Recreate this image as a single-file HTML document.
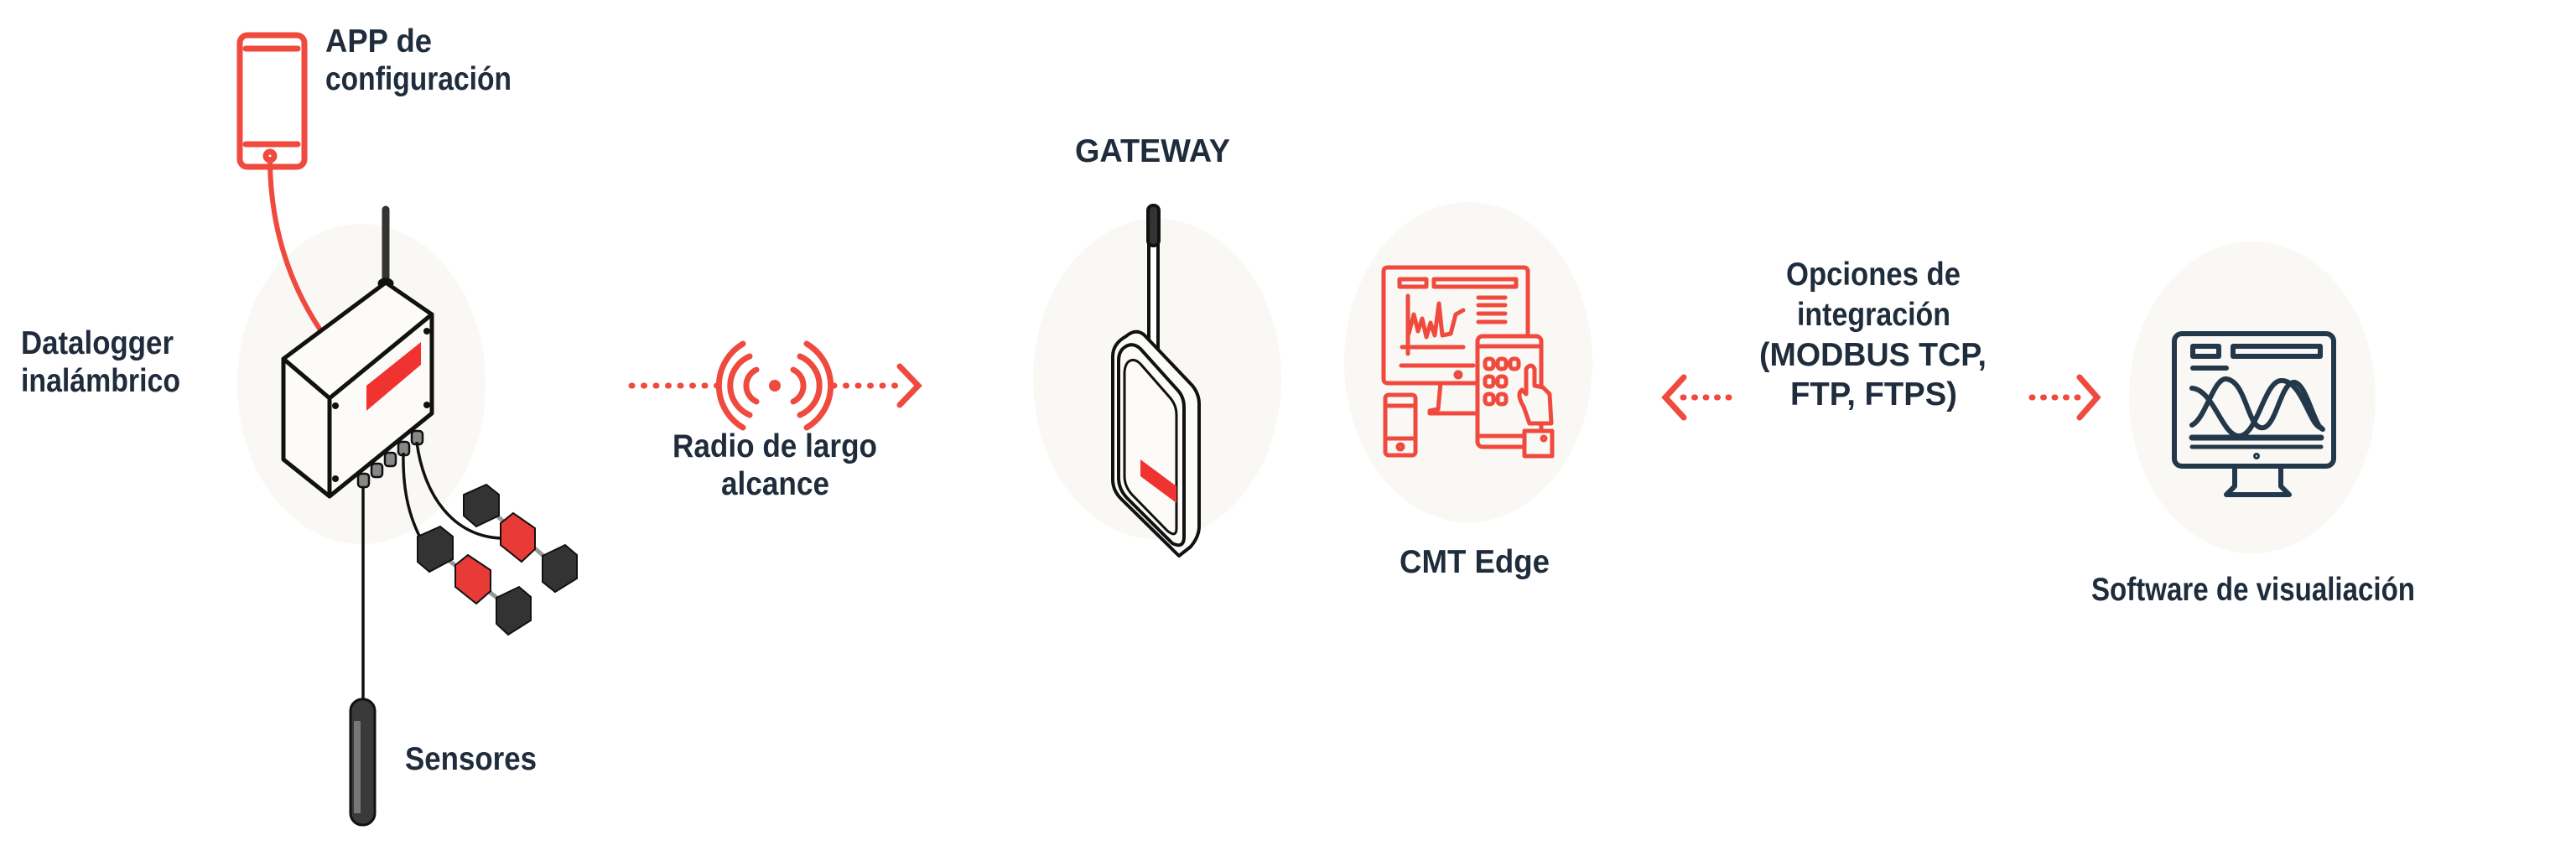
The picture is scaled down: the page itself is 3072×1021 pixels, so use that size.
<!DOCTYPE html>
<html><head><meta charset="utf-8"><style>
html,body{margin:0;padding:0;background:#fff;}
svg{display:block;}
text{font-family:"Liberation Sans",sans-serif;font-weight:bold;fill:#1f2c3b;font-size:39px;}
</style></head><body>
<svg width="3072" height="1021" viewBox="0 0 3072 1021" xmlns="http://www.w3.org/2000/svg">
<!-- background circles -->
<g fill="#f9f8f4">
<ellipse cx="431" cy="458" rx="148" ry="191"/>
<ellipse cx="1380" cy="452" rx="148" ry="191"/>
<ellipse cx="1751" cy="432" rx="148" ry="191"/>
<ellipse cx="2686" cy="474" rx="147" ry="186"/>
</g>

<!-- phone -->
<g fill="none" stroke="#f04a3e" stroke-width="7" stroke-linecap="round">
<rect x="286" y="42" width="77" height="157" rx="9"/>
<line x1="293" y1="58" x2="355" y2="58"/>
<line x1="293" y1="172" x2="355" y2="172"/>
<circle cx="322" cy="186" r="5"/>
<path d="M322 190 C322 260 340 330 381 392" stroke-width="6"/>
</g>

<!-- datalogger box -->
<g stroke="#111" stroke-width="5" stroke-linejoin="round" fill="#fcfbf8">
<line x1="460" y1="250" x2="460" y2="338" stroke-width="9" stroke-linecap="round" stroke="#333"/>
<ellipse cx="460" cy="338" rx="7" ry="4" fill="#444"/>
<polygon points="338,428 460,337 515,375 393,475"/>
<polygon points="338,428 393,475 393,592 338,548"/>
<polygon points="393,475 515,375 515,493 393,592"/>
</g>
<polygon points="437,460 502,408 502,435 437,490" fill="#f03330"/>
<g fill="#111">
<circle cx="400" cy="484" r="4"/><circle cx="509" cy="395" r="4"/>
<circle cx="509" cy="483" r="4"/><circle cx="400" cy="571" r="4"/>
</g>
<g fill="#888" stroke="#111" stroke-width="2.5">
<rect x="427" y="565" width="13" height="16" rx="4"/>
<rect x="443" y="553" width="13" height="16" rx="4"/>
<rect x="459" y="540" width="13" height="16" rx="4"/>
<rect x="475" y="527" width="13" height="16" rx="4"/>
<rect x="491" y="514" width="13" height="16" rx="4"/>
</g>
<g fill="none" stroke="#111" stroke-width="3.5">
<line x1="433" y1="580" x2="433" y2="835"/>
<path d="M481 540 C480 590 490 620 502 643"/>
<path d="M497 527 C505 590 540 640 598 642"/>
</g>
<!-- dumbbells -->
<g stroke="#111" stroke-width="2">
<line x1="575" y1="600" x2="668" y2="680" stroke="#999" stroke-width="5"/>
<line x1="518" y1="655" x2="612" y2="728" stroke="#999" stroke-width="5"/>
<polygon points="553,590 580,578 595,590 595,615 568,628 553,615" fill="#333"/>
<polygon points="647,663 674,650 688,662 688,690 662,706 647,694" fill="#333"/>
<polygon points="597,624 612,612 638,630 638,655 622,670 597,650" fill="#e83a36"/>
<polygon points="498,640 525,628 540,640 540,667 512,682 498,670" fill="#333"/>
<polygon points="592,713 619,700 633,712 633,740 606,757 592,744" fill="#333"/>
<polygon points="543,674 558,662 585,680 585,705 568,720 543,700" fill="#e83a36"/>
</g>
<!-- probe -->
<rect x="418" y="834" width="29" height="150" rx="14" fill="#3a3a3a" stroke="#111" stroke-width="3"/>
<rect x="422" y="860" width="8" height="110" fill="#777"/>

<!-- labels left -->
<text x="388" y="62" textLength="127" lengthAdjust="spacingAndGlyphs">APP de</text>
<text x="388" y="107" textLength="222" lengthAdjust="spacingAndGlyphs">configuración</text>
<text x="25" y="422" textLength="182" lengthAdjust="spacingAndGlyphs">Datalogger</text>
<text x="25" y="467" textLength="190" lengthAdjust="spacingAndGlyphs">inalámbrico</text>
<text x="483" y="918" textLength="157" lengthAdjust="spacingAndGlyphs">Sensores</text>
<text x="802" y="545" textLength="244" lengthAdjust="spacingAndGlyphs">Radio de largo</text>
<text x="860" y="590" textLength="129" lengthAdjust="spacingAndGlyphs">alcance</text>

<!-- radio arrow -->
<g stroke="#f04a3e" stroke-width="7" stroke-linecap="round" fill="none">
<line x1="753" y1="460" x2="862" y2="460" stroke-dasharray="1 13.5"/>
<line x1="994" y1="460" x2="1080" y2="460" stroke-dasharray="1 13.5"/>
<polyline points="1073,437 1095,460 1073,483"/>
<path d="M902 479 A21 21 0 0 1 902 441"/>
<path d="M946 441 A21 21 0 0 1 946 479"/>
<path d="M894 495 A38 38 0 0 1 894 425"/>
<path d="M954 425 A38 38 0 0 1 954 495"/>
<path d="M886 510 A58 58 0 0 1 886 410"/>
<path d="M962 410 A58 58 0 0 1 962 510"/>
</g>
<circle cx="924" cy="460" r="7" fill="#f04a3e"/>

<!-- gateway -->
<text x="1282" y="193" textLength="185" lengthAdjust="spacingAndGlyphs">GATEWAY</text>
<g stroke="#111" stroke-width="4" stroke-linejoin="round">
<rect x="1370" y="290" width="11" height="130" fill="#fff"/>
<rect x="1369" y="245" width="13" height="48" rx="6" fill="#333"/>
<path d="M1343 401 Q1355 391 1365 400 L1422 460 Q1430 470 1430 482 L1430 628 Q1430 640 1420 652 L1406 663 L1337 595 Q1327 585 1327 572 L1327 425 Q1327 410 1343 401 Z" fill="#fcfbf8"/>
<path d="M1340 415 Q1350 407 1360 416 L1405 466 Q1412 474 1412 486 L1412 640 Q1412 655 1398 648 L1345 595 Q1334 584 1334 570 L1334 430 Q1334 420 1340 415 Z" fill="#fcfbf8"/>
<path d="M1345 432 Q1352 426 1360 434 L1395 474 Q1403 483 1403 495 L1403 630 Q1403 642 1392 633 L1350 590 Q1341 580 1341 568 L1341 445 Q1341 437 1345 432 Z" fill="#fcfbf8" stroke-width="3"/>
</g>
<polygon points="1360,548 1403,580 1403,600 1360,568" fill="#f03330"/>

<!-- CMT Edge icon -->
<g fill="none" stroke="#f04a3e" stroke-width="5" stroke-linejoin="round" stroke-linecap="round">
<path d="M1762 457 L1655 457 Q1650 457 1650 452 L1650 324 Q1650 319 1655 319 L1817 319 Q1822 319 1822 324 L1822 400"/>
<rect x="1669" y="333" width="32" height="9"/>
<rect x="1710" y="333" width="98" height="9"/>
<line x1="1763" y1="355" x2="1795" y2="355"/>
<line x1="1763" y1="364" x2="1795" y2="364"/>
<line x1="1763" y1="374" x2="1795" y2="374"/>
<line x1="1763" y1="384" x2="1795" y2="384"/>
<line x1="1679" y1="353" x2="1679" y2="422"/>
<line x1="1672" y1="414" x2="1745" y2="414"/>
<polyline points="1680,398 1686,375 1691,395 1696,380 1701,402 1706,385 1711,400 1716,362 1720,400 1730,398 1736,375 1745,370"/>
<line x1="1671" y1="436" x2="1757" y2="436"/>
<circle cx="1739" cy="447" r="3"/>
<polyline points="1718,457 1715,488 1705,490 1705,493 1762,493"/>
<rect x="1762" y="401" width="76" height="132" rx="6"/>
<line x1="1762" y1="413" x2="1838" y2="413"/>
<line x1="1762" y1="520" x2="1830" y2="520"/>
<rect x="1771" y="428" width="10" height="12" rx="4"/><rect x="1786" y="428" width="10" height="12" rx="4"/><rect x="1801" y="428" width="10" height="12" rx="4"/>
<rect x="1771" y="449" width="10" height="12" rx="4"/><rect x="1786" y="449" width="10" height="12" rx="4"/>
<rect x="1771" y="470" width="10" height="12" rx="4"/><rect x="1786" y="470" width="10" height="12" rx="4"/>
<path d="M1824 505 L1817 485 Q1808 470 1815 465 L1820 470 L1820 440 Q1826 432 1830 440 L1830 460 L1840 462 L1848 470 L1850 505 Z" fill="#f9f8f4"/>
<rect x="1818" y="514" width="33" height="30" fill="#f9f8f4"/>
<circle cx="1841" cy="523" r="2"/>
<rect x="1652" y="471" width="36" height="72" rx="4"/>
<line x1="1652" y1="484" x2="1688" y2="484"/>
<line x1="1652" y1="523" x2="1688" y2="523"/>
<circle cx="1670" cy="533" r="3"/>
</g>
<text x="1669" y="683" textLength="179" lengthAdjust="spacingAndGlyphs">CMT Edge</text>

<!-- integration arrows -->
<g stroke="#f04a3e" stroke-width="7" stroke-linecap="round" fill="none">
<polyline points="2008,450 1986,474 2008,498"/>
<line x1="2007" y1="474" x2="2068" y2="474" stroke-dasharray="1 12.5"/>
<line x1="2423" y1="474" x2="2488" y2="474" stroke-dasharray="1 12.5"/>
<polyline points="2480,450 2501,474 2480,498"/>
</g>
<text x="2130" y="340" textLength="208" lengthAdjust="spacingAndGlyphs">Opciones de</text>
<text x="2143" y="388" textLength="183" lengthAdjust="spacingAndGlyphs">integración</text>
<text x="2098" y="436" textLength="271" lengthAdjust="spacingAndGlyphs">(MODBUS TCP,</text>
<text x="2135" y="483" textLength="199" lengthAdjust="spacingAndGlyphs">FTP, FTPS)</text>

<!-- software monitor -->
<g fill="none" stroke="#23384a" stroke-width="6" stroke-linejoin="round" stroke-linecap="round">
<rect x="2593" y="398" width="190" height="158" rx="9"/>
<rect x="2615" y="413" width="31" height="12"/>
<rect x="2663" y="413" width="104" height="12"/>
<line x1="2615" y1="439" x2="2655" y2="439"/>
<path d="M2614 463 C2640 465 2650 520 2670 520 C2692 520 2700 455 2720 454 C2745 452 2755 510 2768 510"/>
<path d="M2614 507 C2630 500 2640 450 2655 452 C2680 455 2680 515 2700 510 C2715 505 2720 458 2735 456 C2750 454 2760 510 2770 512"/>
<line x1="2614" y1="522" x2="2768" y2="522" stroke-width="7"/>
<line x1="2614" y1="533" x2="2768" y2="533" stroke-width="5"/>
<circle cx="2691" cy="544" r="2.5" stroke-width="3"/>
<polyline points="2665,556 2665,580 2655,590 2730,590 2720,580 2720,556"/>
</g>
<text x="2494" y="716" textLength="386" lengthAdjust="spacingAndGlyphs">Software de visualiación</text>
</svg>
</body></html>
